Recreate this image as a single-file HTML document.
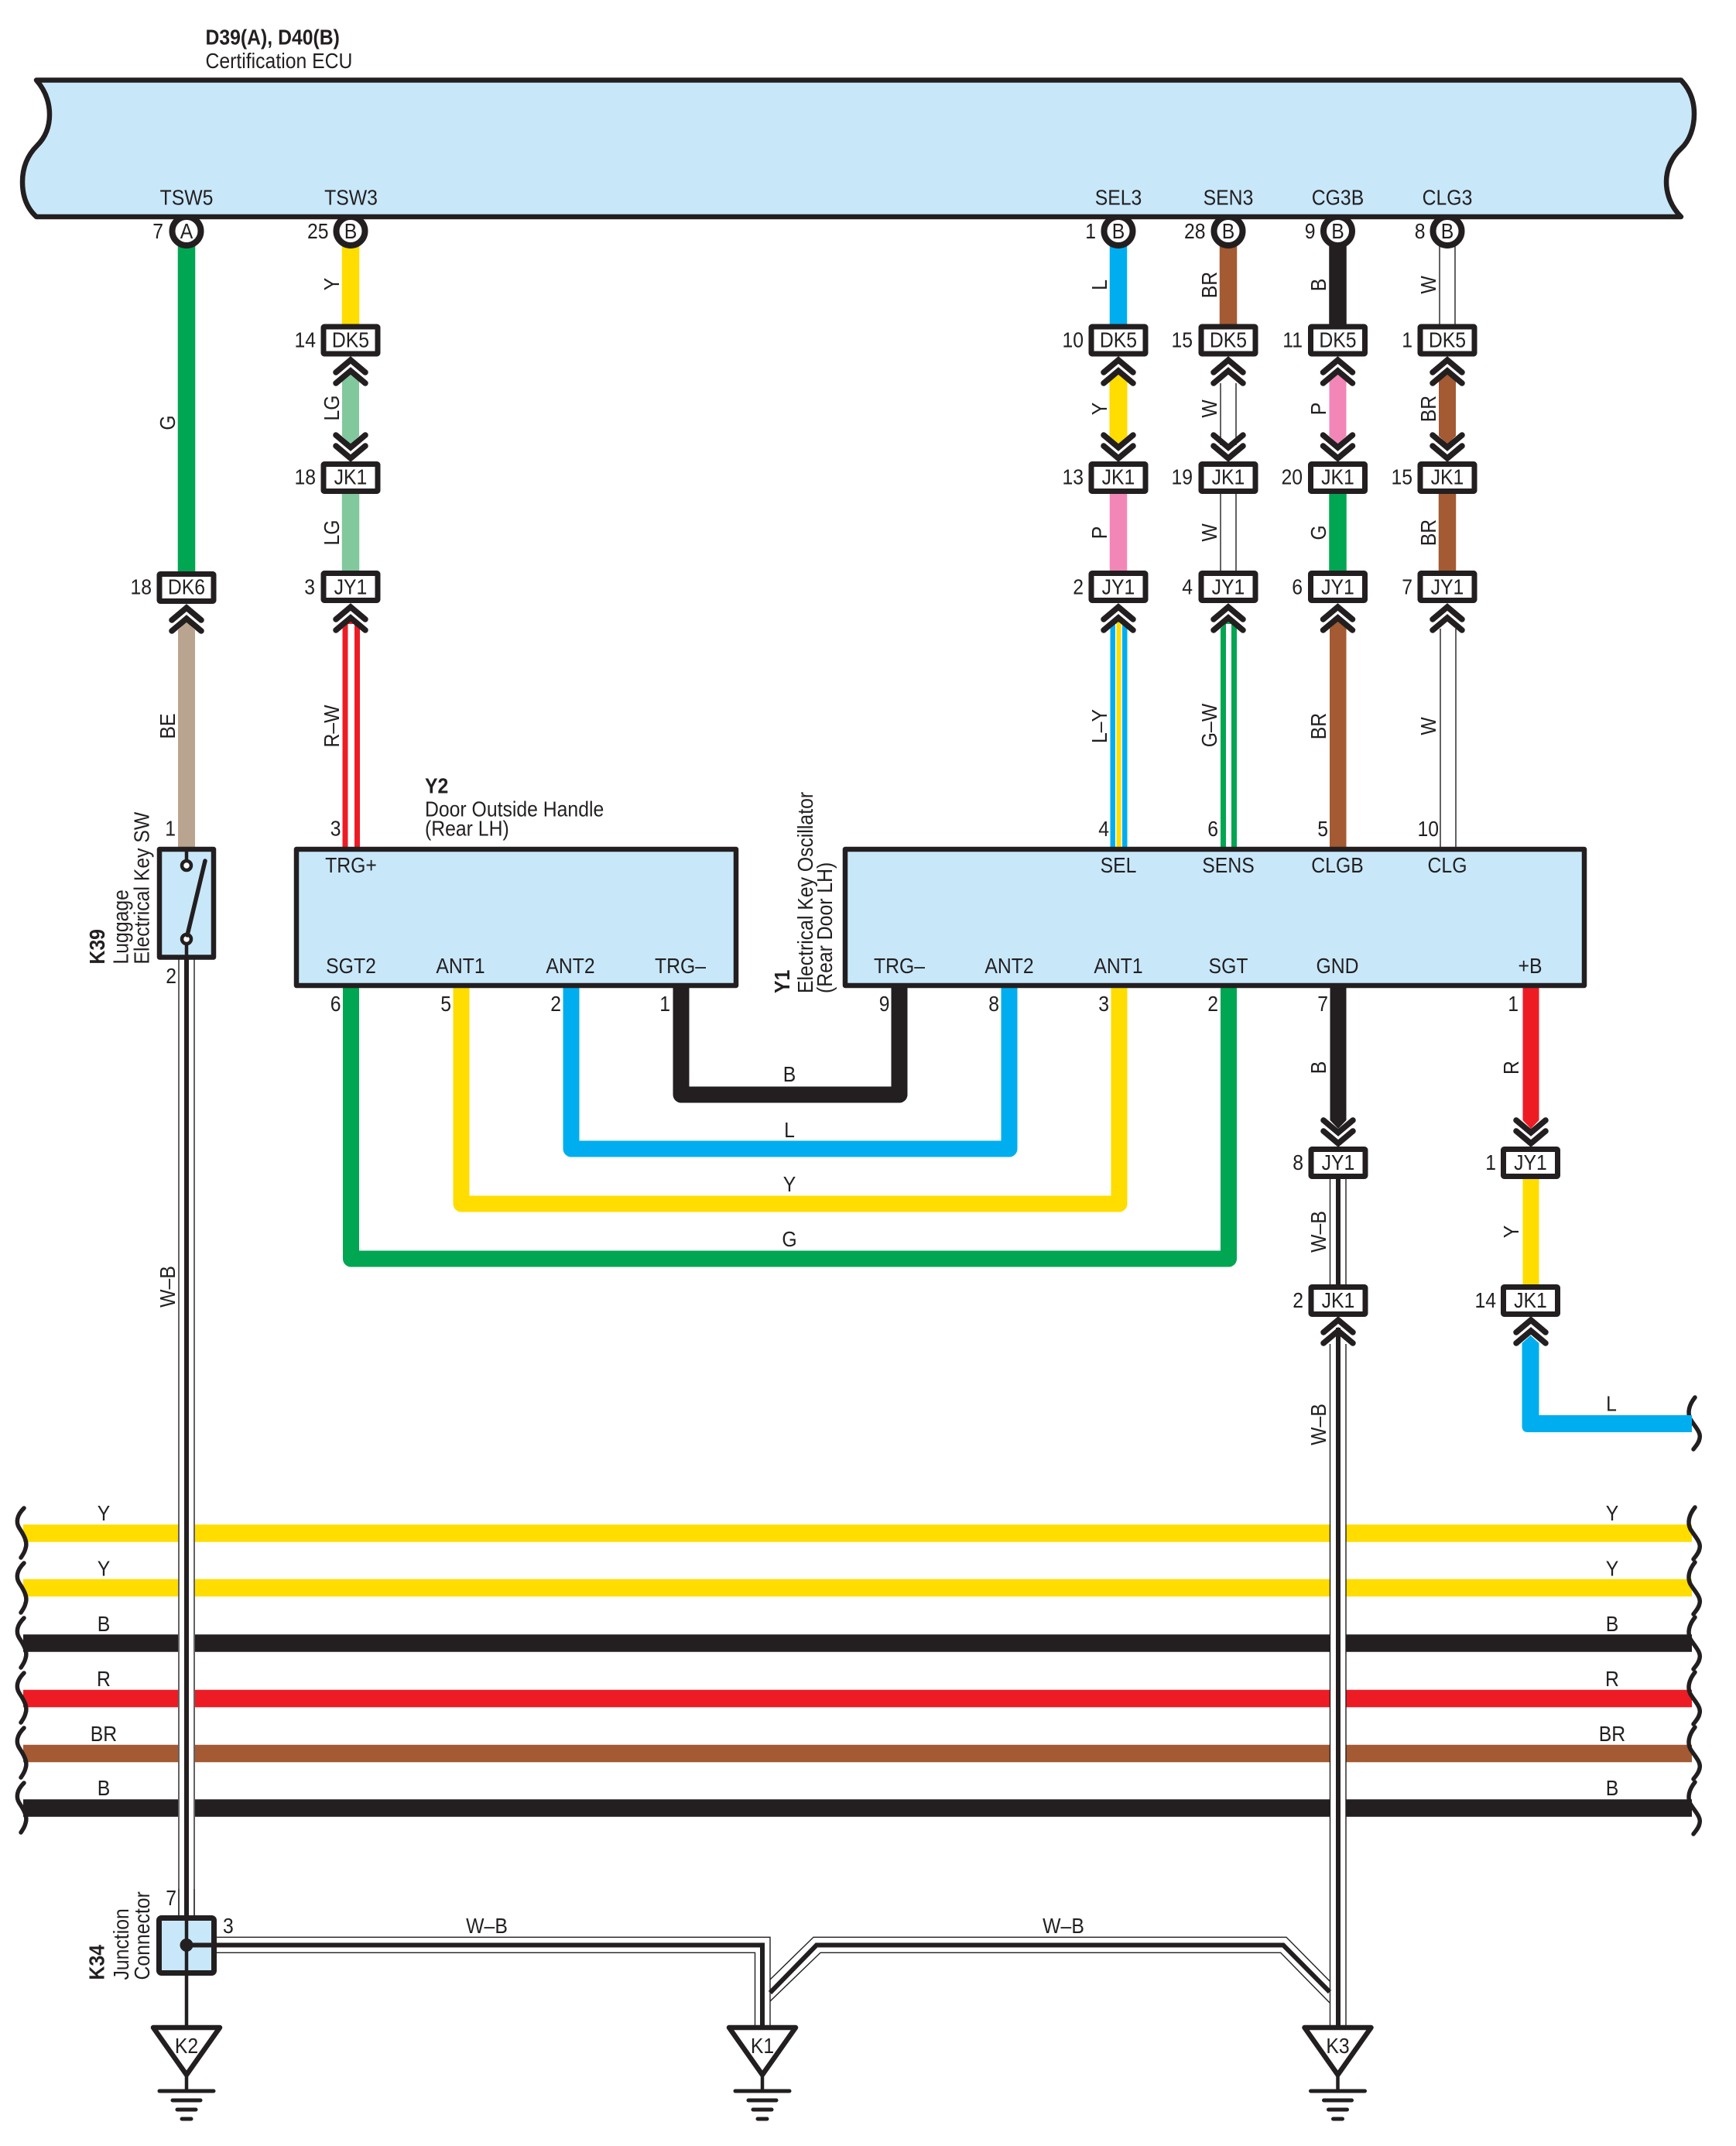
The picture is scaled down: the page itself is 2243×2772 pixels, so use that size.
<!DOCTYPE html>
<html><head><meta charset="utf-8"><style>
html,body{margin:0;padding:0;background:#fff}
svg{display:block}
text{font-family:"Liberation Sans",sans-serif;font-size:28px;fill:#231f20}
.m{text-anchor:middle}.e{text-anchor:end}.b{font-weight:bold}
.t{stroke:#231f20;stroke-width:1.4;fill:none}
.c{stroke:#231f20;stroke-width:6;fill:none}
.w{fill:none;stroke-width:22.5}
.ch{fill:none;stroke:#231f20;stroke-width:7.5;stroke-linecap:round;stroke-linejoin:miter}
.sq{fill:none;stroke:#231f20;stroke-width:5.5;stroke-linecap:round}
.g{stroke:#231f20;stroke-linecap:round;fill:none}
</style></head><body>
<svg xmlns="http://www.w3.org/2000/svg" width="2243" height="2772" viewBox="0 0 2243 2772">
<defs>
<g id="up"><path class="ch" d="M-19,21L0,5L19,21"/><path class="ch" d="M-19,35L0,19L19,35"/></g>
<g id="dn"><path class="ch" d="M-19,-21L0,-5L19,-21"/><path class="ch" d="M-19,-35L0,-19L19,-35"/></g>
<rect id="bx" x="-35" y="-17.5" width="70" height="35" rx="1" fill="#fff" stroke="#231f20" stroke-width="7" stroke-linejoin="round"/>
<circle id="ci" r="18.5" fill="#fff" stroke="#231f20" stroke-width="8"/>
<g id="tri"><path d="M-43,2619L43,2619L0,2680Z" fill="#fff" stroke="#231f20" stroke-width="6.5" stroke-linejoin="round"/><path d="M0,2680V2701" stroke="#231f20" stroke-width="4.5"/>
<path class="g" stroke-width="5" d="M-35,2701H35"/><path class="g" stroke-width="5" d="M-18,2713H18"/><path class="g" stroke-width="5" d="M-12,2725H12"/><path class="g" stroke-width="5" d="M-6,2737H6"/></g>
</defs>

<!-- horizontal bus wires -->
<g stroke-width="22.5" fill="none">
<path stroke="#ffdd00" d="M30,1980.5H230M252,1980.5H1718M1739,1980.5H2186"/>
<path stroke="#ffdd00" d="M30,2051H230M252,2051H1718M1739,2051H2186"/>
<path stroke="#231f20" d="M30,2122.5H230M252,2122.5H1718M1739,2122.5H2186"/>
<path stroke="#ed1c24" d="M30,2194H230M252,2194H1718M1739,2194H2186"/>
<path stroke="#a45a32" d="M30,2265H230M252,2265H1718M1739,2265H2186"/>
<path stroke="#231f20" d="M30,2335.5H230M252,2335.5H1718M1739,2335.5H2186"/>
</g>
<!-- squiggles left -->
<g class="sq" id="sqs">
<path d="M31,1948C22,1957 20,1966 25,1974C31,1983 36,1992 33,2000C32,2005 29,2009 27,2012"/>
<path d="M31,2019C22,2028 20,2037 25,2045C31,2054 36,2063 33,2071C32,2076 29,2080 27,2083"/>
<path d="M31,2090C22,2099 20,2108 25,2116C31,2125 36,2134 33,2142C32,2147 29,2151 27,2154"/>
<path d="M31,2161C22,2170 20,2179 25,2187C31,2196 36,2205 33,2213C32,2218 29,2222 27,2225"/>
<path d="M31,2232C22,2241 20,2250 25,2258C31,2267 36,2276 33,2284C32,2289 29,2293 27,2296"/>
<path d="M31,2303C22,2312 20,2321 25,2329C31,2338 36,2347 33,2355C32,2360 29,2364 27,2367"/>
</g>
<!-- squiggles right -->
<g class="sq">
<path d="M2190,1805C2182,1815 2180,1825 2184,1833C2190,1843 2198,1850 2196,1858C2195,1864 2191,1868 2188,1872"/>
<path d="M2190,1947C2182,1957 2180,1967 2184,1975C2190,1985 2198,1992 2196,2000C2195,2006 2191,2010 2188,2014"/>
<path d="M2190,2018C2182,2028 2180,2038 2184,2046C2190,2056 2198,2063 2196,2071C2195,2077 2191,2081 2188,2085"/>
<path d="M2190,2089C2182,2099 2180,2109 2184,2117C2190,2127 2198,2134 2196,2142C2195,2148 2191,2152 2188,2156"/>
<path d="M2190,2160C2182,2170 2180,2180 2184,2188C2190,2198 2198,2205 2196,2213C2195,2219 2191,2223 2188,2227"/>
<path d="M2190,2231C2182,2241 2180,2251 2184,2259C2190,2269 2198,2276 2196,2284C2195,2290 2191,2294 2188,2298"/>
<path d="M2190,2302C2182,2312 2180,2322 2184,2330C2190,2340 2198,2347 2196,2355C2195,2361 2191,2365 2188,2369"/>
</g>

<!-- col 241 -->
<path class="w" stroke="#00a651" d="M241,316V740"/>
<path fill="#b9a58f" d="M230,1097V814L241,803L252,814V1097Z"/>
<path class="t" d="M231,1236V2476M251,1236V2476"/>
<path class="c" d="M241,1236V2476"/>

<!-- col 453 -->
<path class="w" stroke="#ffdd00" d="M453,316V421"/>
<path fill="#82c89d" d="M442,597V492L453,483L464,492V563L453,574L442,563Z"/>
<path class="w" stroke="#82c89d" d="M453,635V739"/>
<path fill="#ed1c24" d="M442.5,1097V812L453,802L465,812V1097Z"/>
<path fill="#fff" d="M449.5,1097V806H458V1097Z"/>

<!-- col 1445 -->
<path class="w" stroke="#00aeef" d="M1445,316V421"/>
<path fill="#ffdd00" d="M1433.5,492L1445,483L1456.5,492V563L1445,574L1433.5,563Z"/>
<path class="w" stroke="#f287b7" d="M1445,635V739"/>
<path fill="#00aeef" d="M1434.5,1097V812L1445,802L1456.5,812V1097Z"/>
<path fill="#fff" d="M1441,1097V806H1450V1097Z"/>
<path fill="#ffdd00" d="M1442.5,1097V804H1448.5V1097Z"/>

<!-- col 1587 -->
<path class="w" stroke="#a45a32" d="M1587,316V421"/>
<path class="t" d="M1577,495V575M1597,495V575M1577,635V739M1597,635V739"/>
<path fill="#00a651" d="M1577,1097V812L1587,802L1598,812V1097Z"/>
<path fill="#fff" d="M1584,1097V806H1591V1097Z"/>

<!-- col 1728.5 -->
<path class="w" stroke="#231f20" d="M1728.5,316V421"/>
<path fill="#f287b7" d="M1717.5,492L1728.5,483L1739.5,492V563L1728.5,574L1717.5,563Z"/>
<path class="w" stroke="#00a651" d="M1728.5,635V739"/>
<path fill="#a45a32" d="M1718,1097V812L1728.5,802L1739.5,812V1097Z"/>

<!-- col 1870 -->
<path class="t" d="M1860,316V421M1880,316V421"/>
<path fill="#a45a32" d="M1859,492L1870,483L1881,492V563L1870,574L1859,563Z"/>
<path class="w" stroke="#a45a32" d="M1870,635V739"/>
<path class="t" d="M1861,812V1097M1881,812V1097"/>

<!-- Y2-Y1 cross wires -->
<g stroke-width="21" fill="none" stroke-linejoin="round">
<path stroke="#00a651" d="M453.5,1272V1626H1587.5V1272"/>
<path stroke="#ffdd00" d="M596,1272V1555H1446V1272"/>
<path stroke="#00aeef" d="M738,1272V1484H1304V1272"/>
<path stroke="#231f20" d="M880,1272V1414H1162V1272"/>
</g>

<!-- Y1 lower wires -->
<path fill="#231f20" d="M1718.5,1272H1739.5V1447L1729,1458L1718.5,1447Z"/>
<path fill="#ed1c24" d="M1967.5,1272H1988.5V1447L1978,1458L1967.5,1447Z"/>
<path class="w" stroke="#ffdd00" style="stroke-width:21" d="M1978,1520V1661"/>
<path fill="#00aeef" d="M1966.5,1735L1977.5,1725L1988.5,1735V1828H2186V1850H1974Q1966.5,1850 1966.5,1842Z"/>
<path class="t" d="M1718.5,1520V1661M1739,1520V1661"/>
<path class="c" d="M1729,1520V1661"/>
<path class="t" d="M1718.5,1736V2618M1739,1736V2618"/>
<path class="c" d="M1729,1715V2618"/>

<!-- ground wires -->
<path class="t" d="M280,2502.3H995V2618M280,2522.3H975.5V2618"/>
<path class="c" d="M241,2512.5H985V2618"/>
<path class="t" d="M995,2557L1051,2502.3H1662L1718,2559M995,2585L1060,2522.3H1654.6L1718,2587"/>
<path class="c" d="M995,2574L1055,2512.5H1658L1718,2573"/>

<!-- ECU -->
<use href="#ci" x="241" y="298.5"/><use href="#ci" x="453" y="298.5"/><use href="#ci" x="1445" y="298.5"/><use href="#ci" x="1587" y="298.5"/><use href="#ci" x="1728.5" y="298.5"/><use href="#ci" x="1870" y="298.5"/>
<path d="M47,103.5C57,115 64,130 64,148C64,165 58,178 48,188C36,200 29,215 29,235C29,255 36,270 47,280H2172C2160,268 2153,252 2153,235C2153,218 2160,203 2172,192C2183,182 2189,165 2189,147C2189,130 2183,115 2172,103.5Z" fill="#c8e8fa" stroke="#231f20" stroke-width="6.5" stroke-linejoin="round"/>

<!-- connector boxes -->
<use href="#bx" x="241" y="759"/>
<use href="#bx" x="453" y="439.5"/><use href="#bx" x="453" y="617"/><use href="#bx" x="453" y="758"/>
<use href="#bx" x="1445" y="439.5"/><use href="#bx" x="1445" y="617"/><use href="#bx" x="1445" y="758"/>
<use href="#bx" x="1587" y="439.5"/><use href="#bx" x="1587" y="617"/><use href="#bx" x="1587" y="758"/>
<use href="#bx" x="1728.5" y="439.5"/><use href="#bx" x="1728.5" y="617"/><use href="#bx" x="1728.5" y="758"/>
<use href="#bx" x="1870" y="439.5"/><use href="#bx" x="1870" y="617"/><use href="#bx" x="1870" y="758"/>
<use href="#bx" x="1729" y="1502"/><use href="#bx" x="1729" y="1680"/>
<use href="#bx" x="1977.5" y="1502"/><use href="#bx" x="1977.5" y="1680"/>

<!-- chevrons -->
<use href="#up" x="241" y="780"/>
<use href="#up" x="453" y="460"/><use href="#up" x="453" y="779"/><use href="#dn" x="453" y="597"/>
<use href="#up" x="1445" y="460"/><use href="#up" x="1445" y="779"/><use href="#dn" x="1445" y="597"/>
<use href="#up" x="1587" y="460"/><use href="#up" x="1587" y="779"/><use href="#dn" x="1587" y="597"/>
<use href="#up" x="1728.5" y="460"/><use href="#up" x="1728.5" y="779"/><use href="#dn" x="1728.5" y="597"/>
<use href="#up" x="1870" y="460"/><use href="#up" x="1870" y="779"/><use href="#dn" x="1870" y="597"/>
<use href="#dn" x="1729" y="1482"/><use href="#dn" x="1978" y="1482"/>
<use href="#up" x="1729" y="1700"/><use href="#up" x="1978" y="1700"/>

<!-- component boxes -->
<rect x="383" y="1097" width="568" height="176" fill="#c8e8fa" stroke="#231f20" stroke-width="6.5" stroke-linejoin="round"/>
<rect x="1092" y="1097" width="955" height="176" fill="#c8e8fa" stroke="#231f20" stroke-width="6.5" stroke-linejoin="round"/>
<rect x="206" y="1097" width="70" height="139.5" fill="#c8e8fa" stroke="#231f20" stroke-width="6.5" stroke-linejoin="round"/>
<path d="M241,1097V1112M241,1219V1236" stroke="#231f20" stroke-width="4.5"/>
<circle cx="241" cy="1118" r="6" fill="#fff" stroke="#231f20" stroke-width="4.5"/>
<circle cx="241" cy="1213" r="6" fill="#fff" stroke="#231f20" stroke-width="4.5"/>
<path d="M242,1208L265,1112" stroke="#231f20" stroke-width="5.5" stroke-linecap="round"/>

<rect x="205.5" y="2477.5" width="71" height="71" rx="3" fill="#c8e8fa" stroke="#231f20" stroke-width="7"/>
<path class="t" d="M231,2440V2476M251,2440V2476"/>
<path d="M241,2474V2620" stroke="#231f20" stroke-width="4.5"/>
<path class="c" d="M241,2512.5H280"/>
<circle cx="241" cy="2512.5" r="8.5" fill="#231f20"/>

<use href="#tri" x="241"/><use href="#tri" x="985"/><use href="#tri" x="1728.5"/>

<!-- TEXT: titles -->
<text class="b" transform="translate(265.5 57.5) scale(.885 1)">D39(A), D40(B)</text>
<text transform="translate(265.5 88) scale(.885 1)">Certification ECU</text>
<text class="b" transform="translate(549 1024.5) scale(.885 1)">Y2</text>
<text transform="translate(549 1054.5) scale(.885 1)">Door Outside Handle</text>
<text transform="translate(549 1079.5) scale(.885 1)">(Rear LH)</text>

<text class="b" transform="translate(135 1245.5) rotate(-90) scale(.885 1)">K39</text>
<text transform="translate(165.5 1245.5) rotate(-90) scale(.885 1)">Luggage</text>
<text transform="translate(192.5 1245.5) rotate(-90) scale(.885 1)">Electrical Key SW</text>
<text class="b" transform="translate(1020 1283) rotate(-90) scale(.885 1)">Y1</text>
<text transform="translate(1050 1283) rotate(-90) scale(.885 1)">Electrical Key Oscillator</text>
<text transform="translate(1075 1283) rotate(-90) scale(.885 1)">(Rear Door LH)</text>
<text class="b" transform="translate(134.5 2557.5) rotate(-90) scale(.885 1)">K34</text>
<text transform="translate(166 2557.5) rotate(-90) scale(.885 1)">Junction</text>
<text transform="translate(193 2557.5) rotate(-90) scale(.885 1)">Connector</text>

<!-- ECU pins -->
<g class="m">
<text transform="translate(241 264.5) scale(.885 1)">TSW5</text>
<text transform="translate(453.5 264.5) scale(.885 1)">TSW3</text>
<text transform="translate(1445 264.5) scale(.885 1)">SEL3</text>
<text transform="translate(1587 264.5) scale(.885 1)">SEN3</text>
<text transform="translate(1728.5 264.5) scale(.885 1)">CG3B</text>
<text transform="translate(1870 264.5) scale(.885 1)">CLG3</text>
<text transform="translate(241 308) scale(.885 1)">A</text>
<text transform="translate(453 308) scale(.885 1)">B</text>
<text transform="translate(1445 308) scale(.885 1)">B</text>
<text transform="translate(1587 308) scale(.885 1)">B</text>
<text transform="translate(1728.5 308) scale(.885 1)">B</text>
<text transform="translate(1870 308) scale(.885 1)">B</text>
<!-- connector labels -->
<text transform="translate(241 767.5) scale(.885 1)">DK6</text>
<text transform="translate(453 448.5) scale(.885 1)">DK5</text><text transform="translate(453 625.5) scale(.885 1)">JK1</text><text transform="translate(453 767.5) scale(.885 1)">JY1</text>
<text transform="translate(1445 448.5) scale(.885 1)">DK5</text><text transform="translate(1445 625.5) scale(.885 1)">JK1</text><text transform="translate(1445 767.5) scale(.885 1)">JY1</text>
<text transform="translate(1587 448.5) scale(.885 1)">DK5</text><text transform="translate(1587 625.5) scale(.885 1)">JK1</text><text transform="translate(1587 767.5) scale(.885 1)">JY1</text>
<text transform="translate(1728.5 448.5) scale(.885 1)">DK5</text><text transform="translate(1728.5 625.5) scale(.885 1)">JK1</text><text transform="translate(1728.5 767.5) scale(.885 1)">JY1</text>
<text transform="translate(1870 448.5) scale(.885 1)">DK5</text><text transform="translate(1870 625.5) scale(.885 1)">JK1</text><text transform="translate(1870 767.5) scale(.885 1)">JY1</text>
<text transform="translate(1729 1511) scale(.885 1)">JY1</text><text transform="translate(1729 1689) scale(.885 1)">JK1</text>
<text transform="translate(1977.5 1511) scale(.885 1)">JY1</text><text transform="translate(1977.5 1689) scale(.885 1)">JK1</text>
<!-- Y2 pins -->
<text transform="translate(453.5 1127) scale(.885 1)">TRG+</text>
<text transform="translate(453.5 1257) scale(.885 1)">SGT2</text>
<text transform="translate(595 1257) scale(.885 1)">ANT1</text>
<text transform="translate(737 1257) scale(.885 1)">ANT2</text>
<text transform="translate(879 1257) scale(.885 1)">TRG–</text>
<!-- Y1 pins -->
<text transform="translate(1445 1127) scale(.885 1)">SEL</text>
<text transform="translate(1587 1127) scale(.885 1)">SENS</text>
<text transform="translate(1728 1127) scale(.885 1)">CLGB</text>
<text transform="translate(1870 1127) scale(.885 1)">CLG</text>
<text transform="translate(1162 1257) scale(.885 1)">TRG–</text>
<text transform="translate(1304 1257) scale(.885 1)">ANT2</text>
<text transform="translate(1445 1257) scale(.885 1)">ANT1</text>
<text transform="translate(1587 1257) scale(.885 1)">SGT</text>
<text transform="translate(1728 1257) scale(.885 1)">GND</text>
<text transform="translate(1977 1257) scale(.885 1)">+B</text>
<!-- cross labels -->
<text transform="translate(1020 1397) scale(.885 1)">B</text>
<text transform="translate(1020 1469) scale(.885 1)">L</text>
<text transform="translate(1020 1539) scale(.885 1)">Y</text>
<text transform="translate(1020 1610) scale(.885 1)">G</text>
<text transform="translate(2082 1822.5) scale(.885 1)">L</text>
<!-- bus labels -->
<text transform="translate(134 1964) scale(.885 1)">Y</text><text transform="translate(134 2035.5) scale(.885 1)">Y</text><text transform="translate(134 2107) scale(.885 1)">B</text><text transform="translate(134 2178) scale(.885 1)">R</text><text transform="translate(134 2249) scale(.885 1)">BR</text><text transform="translate(134 2319) scale(.885 1)">B</text>
<text transform="translate(2083 1964) scale(.885 1)">Y</text><text transform="translate(2083 2035.5) scale(.885 1)">Y</text><text transform="translate(2083 2107) scale(.885 1)">B</text><text transform="translate(2083 2178) scale(.885 1)">R</text><text transform="translate(2083 2249) scale(.885 1)">BR</text><text transform="translate(2083 2319) scale(.885 1)">B</text>
<text transform="translate(629 2497) scale(.885 1)">W–B</text>
<text transform="translate(1374 2497) scale(.885 1)">W–B</text>
<text transform="translate(241 2652) scale(.885 1)">K2</text>
<text transform="translate(985 2652) scale(.885 1)">K1</text>
<text transform="translate(1728.5 2652) scale(.885 1)">K3</text>
<!-- vertical wire labels -->
<text transform="translate(226 546) rotate(-90) scale(.885 1)">G</text>
<text transform="translate(226 938) rotate(-90) scale(.885 1)">BE</text>
<text transform="translate(226 1662) rotate(-90) scale(.885 1)">W–B</text>
<text transform="translate(438 367) rotate(-90) scale(.885 1)">Y</text>
<text transform="translate(438 527) rotate(-90) scale(.885 1)">LG</text>
<text transform="translate(438 688) rotate(-90) scale(.885 1)">LG</text>
<text transform="translate(438 938) rotate(-90) scale(.885 1)">R–W</text>
<text transform="translate(1430 368) rotate(-90) scale(.885 1)">L</text>
<text transform="translate(1430 528) rotate(-90) scale(.885 1)">Y</text>
<text transform="translate(1430 688) rotate(-90) scale(.885 1)">P</text>
<text transform="translate(1430 938) rotate(-90) scale(.885 1)">L–Y</text>
<text transform="translate(1572 368) rotate(-90) scale(.885 1)">BR</text>
<text transform="translate(1572 528) rotate(-90) scale(.885 1)">W</text>
<text transform="translate(1572 688) rotate(-90) scale(.885 1)">W</text>
<text transform="translate(1572 937) rotate(-90) scale(.885 1)">G–W</text>
<text transform="translate(1713 368) rotate(-90) scale(.885 1)">B</text>
<text transform="translate(1713 528) rotate(-90) scale(.885 1)">P</text>
<text transform="translate(1713 688) rotate(-90) scale(.885 1)">G</text>
<text transform="translate(1713 938) rotate(-90) scale(.885 1)">BR</text>
<text transform="translate(1855 368) rotate(-90) scale(.885 1)">W</text>
<text transform="translate(1855 528) rotate(-90) scale(.885 1)">BR</text>
<text transform="translate(1855 688) rotate(-90) scale(.885 1)">BR</text>
<text transform="translate(1855 938) rotate(-90) scale(.885 1)">W</text>
<text transform="translate(1713 1379) rotate(-90) scale(.885 1)">B</text>
<text transform="translate(1713 1591) rotate(-90) scale(.885 1)">W–B</text>
<text transform="translate(1713 1840) rotate(-90) scale(.885 1)">W–B</text>
<text transform="translate(1962 1379) rotate(-90) scale(.885 1)">R</text>
<text transform="translate(1962 1591) rotate(-90) scale(.885 1)">Y</text>
</g>

<!-- numbers -->
<g class="e">
<text transform="translate(211 308) scale(.885 1)">7</text>
<text transform="translate(424.5 308) scale(.885 1)">25</text>
<text transform="translate(1416 308) scale(.885 1)">1</text>
<text transform="translate(1557.5 308) scale(.885 1)">28</text>
<text transform="translate(1699.5 308) scale(.885 1)">9</text>
<text transform="translate(1841.5 308) scale(.885 1)">8</text>
<text transform="translate(196 767.5) scale(.885 1)">18</text>
<text transform="translate(408 448.5) scale(.885 1)">14</text>
<text transform="translate(408 625.5) scale(.885 1)">18</text>
<text transform="translate(407 767.5) scale(.885 1)">3</text>
<text transform="translate(1400 448.5) scale(.885 1)">10</text>
<text transform="translate(1400 625.5) scale(.885 1)">13</text>
<text transform="translate(1400 767.5) scale(.885 1)">2</text>
<text transform="translate(1541 448.5) scale(.885 1)">15</text>
<text transform="translate(1541 625.5) scale(.885 1)">19</text>
<text transform="translate(1541 767.5) scale(.885 1)">4</text>
<text transform="translate(1683 448.5) scale(.885 1)">11</text>
<text transform="translate(1683 625.5) scale(.885 1)">20</text>
<text transform="translate(1683 767.5) scale(.885 1)">6</text>
<text transform="translate(1825 448.5) scale(.885 1)">1</text>
<text transform="translate(1825 625.5) scale(.885 1)">15</text>
<text transform="translate(1825 767.5) scale(.885 1)">7</text>
<text transform="translate(227 1079.5) scale(.885 1)">1</text>
<text transform="translate(228 1270) scale(.885 1)">2</text>
<text transform="translate(440.5 1079.5) scale(.885 1)">3</text>
<text transform="translate(440.5 1306) scale(.885 1)">6</text>
<text transform="translate(583 1306) scale(.885 1)">5</text>
<text transform="translate(725 1306) scale(.885 1)">2</text>
<text transform="translate(866 1306) scale(.885 1)">1</text>
<text transform="translate(1433 1080) scale(.885 1)">4</text>
<text transform="translate(1574 1080) scale(.885 1)">6</text>
<text transform="translate(1716 1080) scale(.885 1)">5</text>
<text transform="translate(1859 1080) scale(.885 1)">10</text>
<text transform="translate(1149.5 1306) scale(.885 1)">9</text>
<text transform="translate(1291 1306) scale(.885 1)">8</text>
<text transform="translate(1433 1306) scale(.885 1)">3</text>
<text transform="translate(1574 1306) scale(.885 1)">2</text>
<text transform="translate(1716 1306) scale(.885 1)">7</text>
<text transform="translate(1962 1306) scale(.885 1)">1</text>
<text transform="translate(1684 1511) scale(.885 1)">8</text>
<text transform="translate(1684 1689) scale(.885 1)">2</text>
<text transform="translate(1933 1511) scale(.885 1)">1</text>
<text transform="translate(1933 1689) scale(.885 1)">14</text>
<text transform="translate(228 2461) scale(.885 1)">7</text>
</g>
<text transform="translate(288 2497) scale(.885 1)">3</text>
</svg>
</body></html>
